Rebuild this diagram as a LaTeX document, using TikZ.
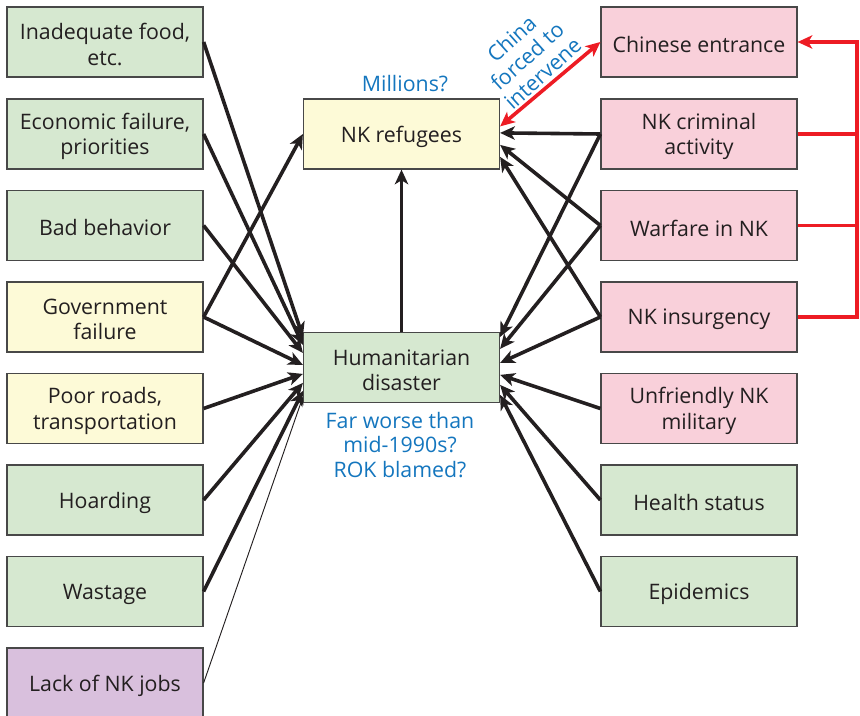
\documentclass[tikz,border=0pt]{standalone}
\usepackage{fontspec}
\setmainfont{Open Sans}
\usetikzlibrary{arrows.meta,calc}
\definecolor{ink}{RGB}{35,31,32}
\definecolor{frame}{RGB}{72,72,72}
\definecolor{boxgreen}{RGB}{214,232,208}
\definecolor{boxyellow}{RGB}{253,250,215}
\definecolor{boxpink}{RGB}{249,208,218}
\definecolor{boxpurple}{RGB}{217,192,221}
\definecolor{noteblue}{RGB}{20,118,190}
\definecolor{linkred}{RGB}{237,28,36}
\tikzset{barb/.tip={Stealth[length=11pt,width=10pt,inset=3pt]}}
% a filled box with its caption set a little below the box centre
\newcommand\cardat[4]{%
  \node[#1] (#2) at (#3) {};
  \node[cardtext] (#2-t) at ($(#2)+(0,2.5)$) {#4};}

\begin{document}
\begin{tikzpicture}[x=0.75pt,y=-0.75pt,
  card/.style={draw=frame, line width=0.9pt, minimum width=147pt, minimum height=52.5pt,
    inner sep=0pt},
  cardtext/.style={inner sep=0pt, align=center, text=ink, font=\fontsize{16}{19}\selectfont},
  gcard/.style={card, fill=boxgreen},
  ycard/.style={card, fill=boxyellow},
  pcard/.style={card, fill=boxpink},
  vcard/.style={card, fill=boxpurple},
  note/.style={text=noteblue, align=center, font=\fontsize{16}{18.5}\selectfont},
  link/.style={draw=ink, line width=2.7pt, -barb},
  thinlink/.style={draw=ink, line width=0.7pt, -{Stealth[length=6pt,width=5pt]}},
  redlink/.style={draw=linkred, line width=2.7pt, line join=miter},
]
\useasboundingbox (0,0) rectangle (860,716);

% causes on the left
\cardat{gcard}{food}{105,42}{Inadequate food,\\etc.}
\cardat{gcard}{econ}{105,134}{Economic failure,\\priorities}
\cardat{gcard}{behav}{105,225.5}{Bad behavior}
\cardat{ycard}{govt}{105,317}{Government\\failure}
\cardat{ycard}{roads}{105,408.5}{Poor roads,\\transportation}
\cardat{gcard}{hoard}{105,500}{Hoarding}
\cardat{gcard}{waste}{105,591.5}{Wastage}
\cardat{vcard}{jobs}{105,683}{Lack of NK jobs}

% factors on the right
\cardat{pcard}{china}{699,42}{Chinese entrance}
\cardat{pcard}{crime}{699,134}{NK criminal\\activity}
\cardat{pcard}{war}{699,225.5}{Warfare in NK}
\cardat{pcard}{insur}{699,317}{NK insurgency}
\cardat{pcard}{mil}{699,408.5}{Unfriendly NK\\military}
\cardat{gcard}{health}{699,500}{Health status}
\cardat{gcard}{epid}{699,591.5}{Epidemics}

% outcomes in the middle
\cardat{ycard}{refug}{401.5,134}{NK refugees}
\cardat{gcard}{hd}{401.5,367.5}{Humanitarian\\disaster}

% annotations
\node[note] (mill)  at (405,84)  {Millions?};
\node[note] (worse) at (400,445) {Far worse than\\mid-1990s?\\ROK blamed?};
\node[note, rotate=42, font=\fontsize{16}{17.5}\selectfont] (interv) at (527,56) {China\\forced to\\intervene};

% arrow end points along the humanitarian disaster box
\foreach \n/\d in {1/5,2/13,3/21,4/33,5/42,6/51,7/59,8/65}
  \coordinate (hl\n) at ($(hd.north west)+(0,\d)$);
\foreach \n/\d in {1/5,2/17,3/31,4/43,5/53,6/63}
  \coordinate (hr\n) at ($(hd.north east)+(0,\d)$);
\foreach \n/\d in {0/28,1/34.5,2/46.5,3/58.5}
  \coordinate (rr\n) at ($(refug.north east)+(0,\d)$);

% left causes into the disaster
\draw[link] (food.east)  -- (hl1);
\draw[link] (econ.east)  -- (hl2);
\draw[link] (behav.east) -- (hl3);
\draw[link] (govt.east)  -- (hl4);
\draw[link] (roads.east) -- (hl5);
\draw[link] (hoard.east) -- (hl6);
\draw[link] (waste.east) -- (hl7);
\draw[thinlink] (jobs.east) -- (hl8);
\draw[link] (govt.east) -- (refug.west);

% disaster feeds refugees
\draw[link] (hd.north) -- (refug.south);

% right factors
\draw[link] (crime.west) -- (rr1);
\draw[link] (war.west)   -- (rr2);
\draw[link] (insur.west) -- (rr3);
\draw[link] (crime.west) -- (hr1);
\draw[link] (war.west)   -- (hr2);
\draw[link] (insur.west) -- (hr3);
\draw[link] (mil.west)   -- (hr4);
\draw[link] (health.west) -- (hr5);
\draw[link] (epid.west)  -- (hr6);

% Chinese intervention links
\coordinate (rail) at (857,0);
\draw[redlink, barb-barb] (rr0) -- (china.west);
\draw[redlink, -barb] (insur.east) -- (insur.east -| rail) |- (china.east);
\draw[redlink] (crime.east) -- (crime.east -| rail);
\draw[redlink] (war.east) -- (war.east -| rail);
\end{tikzpicture}
\end{document}
